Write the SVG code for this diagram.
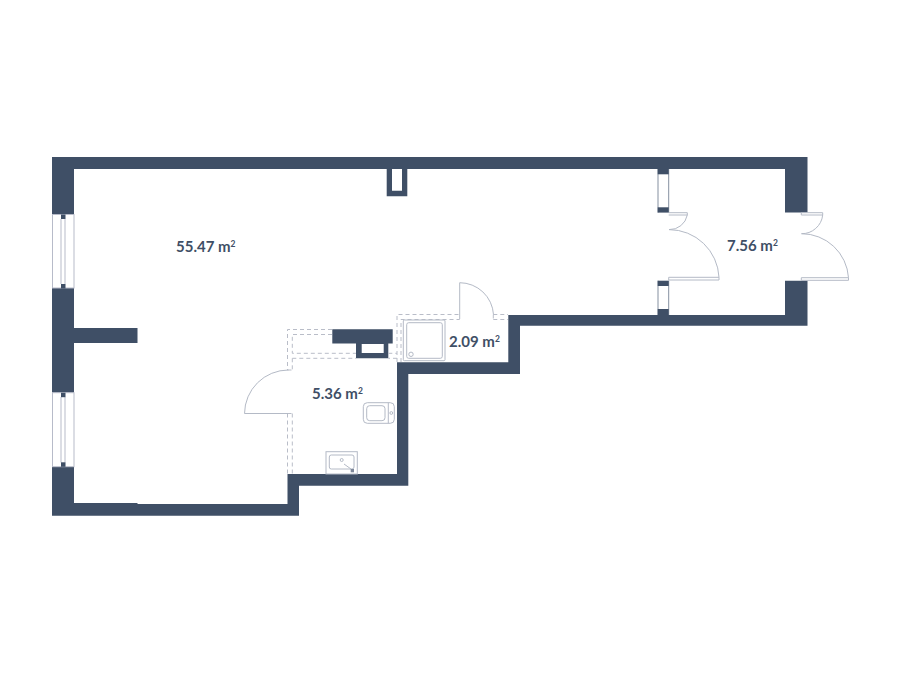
<svg xmlns="http://www.w3.org/2000/svg" width="900" height="673" viewBox="0 0 900 673">
<style>
.wall{fill:#3f4f66;stroke:none}
.thin{fill:none;stroke:#b4bac6;stroke-width:1}
.win{fill:#fff;stroke:#b7bbc9;stroke-width:1}
.side{fill:none;stroke:#8590a0;stroke-width:1}
.dash{fill:none;stroke:#b9bdc8;stroke-width:1;stroke-dasharray:4 3}
.lbl{font-family:"Lato","Liberation Sans",sans-serif;font-size:15px;font-weight:700;fill:#3f4f66}
.sup{font-size:8.5px}
</style>
<rect width="900" height="673" fill="#fff"/>
<g id="walls">
<path class="wall" d="M52 157H807.5V212.5H785V169H74V214.5H52Z"/>
<path class="wall" d="M52 288H74V328H137.5V343H74V392.7H52Z"/>
<path class="wall" d="M52 466.7H74V503H137.5V504H287.5V474H397V362.3H508.3V315H785V280.7H807.5V325.7H520V374H408.3V485.7H299V515.7H52Z"/>
<path class="wall" d="M386.7 169H407.3V196.3H386.7ZM392 169V190.7H402V169Z" fill-rule="evenodd"/>
<path class="wall" d="M332.3 329.3H392.7V343.5H388.3V358.3H356V343.5H332.3ZM361.7 344V353H383.7V344Z" fill-rule="evenodd"/>
</g>
<g id="windows">
<rect class="win" x="52.5" y="214.5" width="21.5" height="73.5"/>
<path class="win" d="M61 219V284M65 219V284"/>
<rect class="wall" x="61" y="214.5" width="4.5" height="4.5"/>
<rect class="wall" x="61" y="284" width="4.5" height="4.5"/>
<rect class="win" x="52.5" y="392.7" width="21.5" height="74"/>
<path class="win" d="M61 397V462.5M65 397V462.5"/>
<rect class="wall" x="61" y="392.7" width="4.5" height="4.5"/>
<rect class="wall" x="61" y="462.3" width="4.5" height="4.5"/>
<path class="side" d="M658 169V212.6M668.7 169V212.6M658 280.7V315M668.7 280.7V315"/>
<rect class="wall" x="657.7" y="169" width="11" height="5.3"/>
<rect class="wall" x="657.7" y="207.3" width="11" height="5.3"/>
<rect class="wall" x="657.7" y="280.7" width="11" height="5.3"/>
<rect class="wall" x="657.7" y="309" width="11" height="6"/>
</g>
<g id="connectors">
<path class="dash" d="M332 329.5H287.5V370M332 334.5H292.3V353.3H356M292.3 358.3H356M292.3 358.3V370M287.5 370H292.3M287.5 413.5H292.3M287.5 413.5V474M292.3 413.5V474M388.3 353.3H397"/>
<path class="dash" d="M397 362V314.5H459.7M401 362V319.5H459.7M493.3 314.5H508M493.3 319.5H508M493.3 314.5V319.5M397 358.3H388.3"/>
<path class="thin" d="M459.7 319V282.7A34 34 0 0 1 493.5 314.5"/>
<path class="thin" d="M288.5 370A44 44 0 0 0 244.5 413.5H288"/>
<path class="thin" d="M668.7 212.7H687.3V215H668.7M687.3 215A18 18 0 0 1 669 229.6A50 50 0 0 1 719 277.3V280H668.7V277.3H719"/>
<path class="thin" d="M801.3 212.7H822.7V215H801.3ZM822.7 215A21 21 0 0 1 801.5 233.7A47 47 0 0 1 848.5 277.7V280.3H801.3V277.7H848.5"/>
</g>
<g id="shower">
<rect class="thin" x="403.3" y="320" width="41.7" height="40.7" rx="1"/>
<rect class="thin" x="406.7" y="322.7" width="35.6" height="35.6" rx="2"/>
<circle class="thin" cx="411" cy="354.3" r="2.2"/>
</g>
<g id="toilet">
<rect class="thin" x="363.3" y="402.7" width="31" height="20.6" rx="4"/>
<path class="thin" d="M388.3 402.7V423.3"/>
<rect class="thin" x="366.7" y="405.7" width="18.3" height="15" rx="3"/>
<circle class="thin" cx="391.3" cy="413" r="1.4"/>
</g>
<g id="sink">
<rect class="thin" x="326" y="451.7" width="31.3" height="22.3"/>
<rect class="thin" x="329.3" y="455" width="24.7" height="14" rx="2"/>
<circle class="thin" cx="341.7" cy="460" r="1.5"/>
<path class="thin" d="M344 464L351 469"/>
<rect x="350.7" y="469" width="3.3" height="3.3" fill="#7d879a"/>
</g>
<g id="labels">
<text class="lbl" x="176" y="252">55.47 m<tspan class="sup" dy="-5">2</tspan></text>
<text class="lbl" x="312" y="399">5.36 m<tspan class="sup" dy="-5">2</tspan></text>
<text class="lbl" x="449" y="347">2.09 m<tspan class="sup" dy="-5">2</tspan></text>
<text class="lbl" x="727" y="251">7.56 m<tspan class="sup" dy="-5">2</tspan></text>
</g>
</svg>
